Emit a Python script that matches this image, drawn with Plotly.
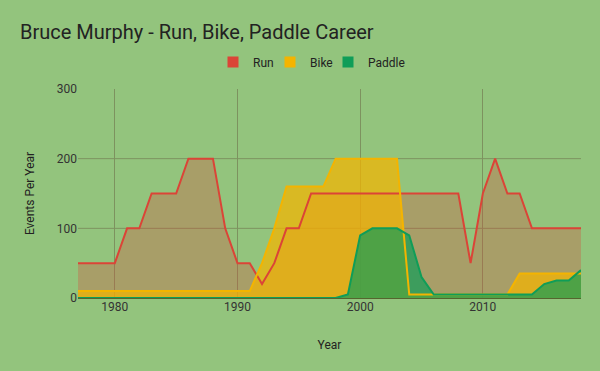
import plotly.graph_objects as go

years = list(range(1977, 2019))
run = [50, 50, 50, 50, 100, 100, 150, 150, 150, 200, 200, 200, 100, 50, 50, 20, 50, 100, 100, 150,
       150, 150, 150, 150, 150, 150, 150, 150, 150, 150, 150, 150, 50, 150, 200, 150, 150, 100, 100, 100,
       100, 100]
bike = [10, 10, 10, 10, 10, 10, 10, 10, 10, 10, 10, 10, 10, 10, 10, 50, 100, 160, 160, 160,
        160, 200, 200, 200, 200, 200, 200, 5, 5, 5, 5, 5, 5, 5, 5, 5, 35, 35, 35, 35,
        35, 35]
paddle = [0, 0, 0, 0, 0, 0, 0, 0, 0, 0, 0, 0, 0, 0, 0, 0, 0, 0, 0, 0,
          0, 0, 5, 90, 100, 100, 100, 90, 30, 5, 5, 5, 5, 5, 5, 5, 5, 5, 20, 25,
          25, 40]
names = ["Run", "Bike", "Paddle"]
series = [run, bike, paddle]
colors = ["#db4437", "#f4b400", "#0f9d58"]
fills = ["rgba(219,68,55,0.3)", "rgba(244,180,0,0.72)", "rgba(15,157,88,0.7)"]
xticks = [1980, 1990, 2000, 2010]
yticks = [0, 100, 200, 300]

bg = "#93c47d"
grid = "#7d925f"
legend_ids = ["legend", "legend2", "legend3"]
legend_left = [213, 270, 328]

ML, MR, MT, MB = 78, 19, 89, 73
W, H = 600, 371
pw, ph = W - ML - MR, H - MT - MB

fig = go.Figure()
for n, s, fc in zip(names, series, fills):
    fig.add_trace(go.Scatter(x=years, y=s, mode="lines", fill="tozeroy", fillcolor=fc,
                             line=dict(width=0, color=fc), showlegend=False, hoverinfo="skip"))
for n, s, c in zip(names, series, colors):
    fig.add_trace(go.Scatter(x=years, y=s, mode="lines", line=dict(width=2, color=c),
                             showlegend=False, name=n))
for n, c, lid in zip(names, colors, legend_ids):
    fig.add_trace(go.Scatter(x=[None], y=[None], mode="markers", name=n, legend=lid,
                             marker=dict(symbol="square", size=11, color=c)))

for v in yticks[1:-1]:
    fig.add_shape(type="line", xref="paper", x0=0, x1=1, yref="y", y0=v, y1=v,
                  line=dict(color=grid, width=1), layer="below")

legend_style = dict(orientation="h", xref="paper", yref="paper", xanchor="left",
                    y=1 + (MT - 62) / ph, yanchor="middle", bgcolor="rgba(0,0,0,0)",
                    font=dict(size=12, color="#222222"))
fig.update_layout(
    width=W, height=H,
    paper_bgcolor=bg, plot_bgcolor=bg,
    margin=dict(l=ML, r=MR, t=MT, b=MB, autoexpand=False),
    font=dict(family="Roboto", size=12, color="#222222"),
    title=dict(text="Bruce Murphy - Run, Bike, Paddle Career", font=dict(size=20, color="#222222"),
               xref="container", x=20 / W, xanchor="left", yref="container", y=1 - 32 / H,
               yanchor="middle"),
    showlegend=True,
)
for lid, lx in zip(legend_ids, legend_left):
    fig.update_layout({lid: dict(legend_style, x=(lx - ML) / pw)})

fig.update_xaxes(range=[1977, 2018], tickvals=xticks, showgrid=True, gridcolor=grid, gridwidth=1,
                 zeroline=False, showline=False, ticks="", tickfont=dict(size=12, color="#333333"),
                 title=dict(text="Year", font=dict(size=12, color="#222222"), standoff=27))
fig.update_yaxes(range=[0, 300], tickvals=yticks, showgrid=False, zeroline=True,
                 zerolinecolor="#55652f", zerolinewidth=1, showline=False, ticks="",
                 tickfont=dict(size=12, color="#333333"),
                 title=dict(text="Events Per Year", font=dict(size=12, color="#222222"), standoff=19))

fig.write_html("out.html", config={"displayModeBar": False},
               post_script="document.body.style.margin='0';document.body.style.background='" + bg + "';")
